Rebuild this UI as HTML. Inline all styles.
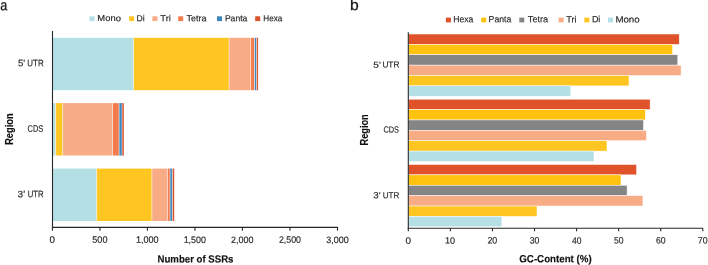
<!DOCTYPE html>
<html><head><meta charset="utf-8"><title>SSR charts</title>
<style>
html,body{margin:0;padding:0;background:#fff;}
body{width:708px;height:265px;overflow:hidden;}
svg{display:block;font-family:"Liberation Sans",sans-serif;will-change:transform;}
</style></head>
<body>
<svg width="708" height="265" viewBox="0 0 708 265">
<rect width="708" height="265" fill="#fff"/>
<rect x="89.50" y="16.30" width="5.00" height="4.80" fill="#B4DFE5"/>
<rect x="129.10" y="16.30" width="5.00" height="4.80" fill="#FFC520"/>
<rect x="152.40" y="16.30" width="5.00" height="4.80" fill="#F8AC85"/>
<rect x="178.20" y="16.30" width="5.00" height="4.80" fill="#F47C4C"/>
<rect x="217.00" y="16.30" width="5.00" height="4.80" fill="#3C86BD"/>
<rect x="255.20" y="16.30" width="5.00" height="4.80" fill="#DA512C"/>
<rect x="52.50" y="37.80" width="81.10" height="52.40" fill="#B4DFE5"/>
<rect x="133.60" y="37.80" width="95.50" height="52.40" fill="#FFC520"/>
<rect x="229.10" y="37.80" width="21.50" height="52.40" fill="#F8AC85"/>
<rect x="250.60" y="37.80" width="3.90" height="52.40" fill="#F47C4C"/>
<rect x="254.50" y="37.80" width="2.10" height="52.40" fill="#3C86BD"/>
<rect x="256.60" y="37.80" width="1.50" height="52.40" fill="#DA512C"/>
<line x1="133.60" y1="37.80" x2="133.60" y2="90.20" stroke="#fff" stroke-width="0.55"/>
<line x1="229.10" y1="37.80" x2="229.10" y2="90.20" stroke="#fff" stroke-width="0.55"/>
<line x1="250.60" y1="37.80" x2="250.60" y2="90.20" stroke="#fff" stroke-width="0.55"/>
<line x1="254.50" y1="37.80" x2="254.50" y2="90.20" stroke="#fff" stroke-width="0.55"/>
<line x1="256.60" y1="37.80" x2="256.60" y2="90.20" stroke="#fff" stroke-width="0.55"/>
<rect x="52.50" y="103.10" width="3.20" height="52.40" fill="#B4DFE5"/>
<rect x="55.70" y="103.10" width="7.00" height="52.40" fill="#FFC520"/>
<rect x="62.70" y="103.10" width="49.80" height="52.40" fill="#F8AC85"/>
<rect x="112.50" y="103.10" width="6.60" height="52.40" fill="#F47C4C"/>
<rect x="119.10" y="103.10" width="2.90" height="52.40" fill="#3C86BD"/>
<rect x="122.00" y="103.10" width="1.80" height="52.40" fill="#DA512C"/>
<line x1="55.70" y1="103.10" x2="55.70" y2="155.50" stroke="#fff" stroke-width="0.55"/>
<line x1="62.70" y1="103.10" x2="62.70" y2="155.50" stroke="#fff" stroke-width="0.55"/>
<line x1="112.50" y1="103.10" x2="112.50" y2="155.50" stroke="#fff" stroke-width="0.55"/>
<line x1="119.10" y1="103.10" x2="119.10" y2="155.50" stroke="#fff" stroke-width="0.55"/>
<line x1="122.00" y1="103.10" x2="122.00" y2="155.50" stroke="#fff" stroke-width="0.55"/>
<rect x="52.50" y="168.60" width="44.20" height="52.40" fill="#B4DFE5"/>
<rect x="96.70" y="168.60" width="55.20" height="52.40" fill="#FFC520"/>
<rect x="151.90" y="168.60" width="15.50" height="52.40" fill="#F8AC85"/>
<rect x="167.40" y="168.60" width="2.60" height="52.40" fill="#F47C4C"/>
<rect x="170.00" y="168.60" width="2.40" height="52.40" fill="#3C86BD"/>
<rect x="172.40" y="168.60" width="1.80" height="52.40" fill="#DA512C"/>
<line x1="96.70" y1="168.60" x2="96.70" y2="221.00" stroke="#fff" stroke-width="0.55"/>
<line x1="151.90" y1="168.60" x2="151.90" y2="221.00" stroke="#fff" stroke-width="0.55"/>
<line x1="167.40" y1="168.60" x2="167.40" y2="221.00" stroke="#fff" stroke-width="0.55"/>
<line x1="170.00" y1="168.60" x2="170.00" y2="221.00" stroke="#fff" stroke-width="0.55"/>
<line x1="172.40" y1="168.60" x2="172.40" y2="221.00" stroke="#fff" stroke-width="0.55"/>
<line x1="52.50" y1="31.00" x2="52.50" y2="227.90" stroke="#262626" stroke-width="1.1"/>
<line x1="52.00" y1="227.40" x2="338.10" y2="227.40" stroke="#262626" stroke-width="1.1"/>
<line x1="52.40" y1="227.40" x2="52.40" y2="230.70" stroke="#262626" stroke-width="1.1"/>
<line x1="99.92" y1="227.40" x2="99.92" y2="230.70" stroke="#262626" stroke-width="1.1"/>
<line x1="147.43" y1="227.40" x2="147.43" y2="230.70" stroke="#262626" stroke-width="1.1"/>
<line x1="194.95" y1="227.40" x2="194.95" y2="230.70" stroke="#262626" stroke-width="1.1"/>
<line x1="242.47" y1="227.40" x2="242.47" y2="230.70" stroke="#262626" stroke-width="1.1"/>
<line x1="289.98" y1="227.40" x2="289.98" y2="230.70" stroke="#262626" stroke-width="1.1"/>
<line x1="337.50" y1="227.40" x2="337.50" y2="230.70" stroke="#262626" stroke-width="1.1"/>
<rect x="445.90" y="17.60" width="5.00" height="4.80" fill="#E0522A"/>
<rect x="481.20" y="17.60" width="5.00" height="4.80" fill="#FFC20E"/>
<rect x="519.30" y="17.60" width="5.00" height="4.80" fill="#858585"/>
<rect x="558.60" y="17.60" width="5.00" height="4.80" fill="#F8AC85"/>
<rect x="584.30" y="17.60" width="5.00" height="4.80" fill="#FFC520"/>
<rect x="608.00" y="17.60" width="5.00" height="4.80" fill="#B4DFE5"/>
<rect x="408.60" y="34.00" width="270.60" height="10.38" fill="#E0522A" stroke="#fff" stroke-width="0.5"/>
<rect x="408.60" y="44.38" width="264.00" height="10.38" fill="#FFC20E" stroke="#fff" stroke-width="0.5"/>
<rect x="408.60" y="54.76" width="269.20" height="10.38" fill="#858585" stroke="#fff" stroke-width="0.5"/>
<rect x="408.60" y="65.14" width="272.50" height="10.38" fill="#F8AC85" stroke="#fff" stroke-width="0.5"/>
<rect x="408.60" y="75.52" width="220.40" height="10.38" fill="#FFC520" stroke="#fff" stroke-width="0.5"/>
<rect x="408.60" y="85.90" width="162.20" height="10.38" fill="#B4DFE5" stroke="#fff" stroke-width="0.5"/>
<rect x="408.60" y="99.20" width="241.50" height="10.38" fill="#E0522A" stroke="#fff" stroke-width="0.5"/>
<rect x="408.60" y="109.58" width="236.70" height="10.38" fill="#FFC20E" stroke="#fff" stroke-width="0.5"/>
<rect x="408.60" y="119.96" width="234.90" height="10.38" fill="#858585" stroke="#fff" stroke-width="0.5"/>
<rect x="408.60" y="130.34" width="237.80" height="10.38" fill="#F8AC85" stroke="#fff" stroke-width="0.5"/>
<rect x="408.60" y="140.72" width="198.40" height="10.38" fill="#FFC520" stroke="#fff" stroke-width="0.5"/>
<rect x="408.60" y="151.10" width="185.40" height="10.38" fill="#B4DFE5" stroke="#fff" stroke-width="0.5"/>
<rect x="408.60" y="164.50" width="228.00" height="10.38" fill="#E0522A" stroke="#fff" stroke-width="0.5"/>
<rect x="408.60" y="174.88" width="212.40" height="10.38" fill="#FFC20E" stroke="#fff" stroke-width="0.5"/>
<rect x="408.60" y="185.26" width="218.50" height="10.38" fill="#858585" stroke="#fff" stroke-width="0.5"/>
<rect x="408.60" y="195.64" width="234.30" height="10.38" fill="#F8AC85" stroke="#fff" stroke-width="0.5"/>
<rect x="408.60" y="206.02" width="128.40" height="10.38" fill="#FFC520" stroke="#fff" stroke-width="0.5"/>
<rect x="408.60" y="216.40" width="93.30" height="10.38" fill="#B4DFE5" stroke="#fff" stroke-width="0.5"/>
<line x1="408.30" y1="32.20" x2="408.30" y2="228.70" stroke="#262626" stroke-width="1.1"/>
<line x1="407.80" y1="228.20" x2="703.00" y2="228.20" stroke="#262626" stroke-width="1.1"/>
<line x1="408.30" y1="228.20" x2="408.30" y2="231.30" stroke="#262626" stroke-width="1.1"/>
<line x1="450.37" y1="228.20" x2="450.37" y2="231.30" stroke="#262626" stroke-width="1.1"/>
<line x1="492.44" y1="228.20" x2="492.44" y2="231.30" stroke="#262626" stroke-width="1.1"/>
<line x1="534.51" y1="228.20" x2="534.51" y2="231.30" stroke="#262626" stroke-width="1.1"/>
<line x1="576.59" y1="228.20" x2="576.59" y2="231.30" stroke="#262626" stroke-width="1.1"/>
<line x1="618.66" y1="228.20" x2="618.66" y2="231.30" stroke="#262626" stroke-width="1.1"/>
<line x1="660.73" y1="228.20" x2="660.73" y2="231.30" stroke="#262626" stroke-width="1.1"/>
<line x1="702.80" y1="228.20" x2="702.80" y2="231.30" stroke="#262626" stroke-width="1.1"/>
<text x="0.29" y="10.24" font-size="15.09" stroke="#111111" stroke-width="0.25" fill="#111111" textLength="7.02" lengthAdjust="spacingAndGlyphs" transform="rotate(0.05,0.29,10.24)">a</text>
<text x="349.96" y="10.08" font-size="15.09" stroke="#111111" stroke-width="0.25" fill="#111111" textLength="8.73" lengthAdjust="spacingAndGlyphs" transform="rotate(0.05,349.96,10.08)">b</text>
<text x="97.37" y="21.12" font-size="8.80" stroke="#262626" stroke-width="0.15" fill="#262626" textLength="23.58" lengthAdjust="spacingAndGlyphs" transform="rotate(0.05,97.37,21.12)">Mono</text>
<text x="136.41" y="21.30" font-size="8.80" stroke="#262626" stroke-width="0.15" fill="#262626" textLength="8.15" lengthAdjust="spacingAndGlyphs" transform="rotate(0.05,136.41,21.30)">Di</text>
<text x="160.25" y="21.32" font-size="8.80" stroke="#262626" stroke-width="0.15" fill="#262626" textLength="10.61" lengthAdjust="spacingAndGlyphs" transform="rotate(0.05,160.25,21.32)">Tri</text>
<text x="186.55" y="21.21" font-size="8.80" stroke="#262626" stroke-width="0.15" fill="#262626" textLength="20.09" lengthAdjust="spacingAndGlyphs" transform="rotate(0.05,186.55,21.21)">Tetra</text>
<text x="224.90" y="21.21" font-size="8.80" stroke="#262626" stroke-width="0.15" fill="#262626" textLength="22.43" lengthAdjust="spacingAndGlyphs" transform="rotate(0.05,224.90,21.21)">Panta</text>
<text x="263.26" y="21.19" font-size="8.80" stroke="#262626" stroke-width="0.15" fill="#262626" textLength="19.03" lengthAdjust="spacingAndGlyphs" transform="rotate(0.05,263.26,21.19)">Hexa</text>
<text x="453.21" y="22.25" font-size="9.10" stroke="#262626" stroke-width="0.15" fill="#262626" textLength="20.16" lengthAdjust="spacingAndGlyphs" transform="rotate(0.05,453.21,22.25)">Hexa</text>
<text x="488.62" y="22.28" font-size="9.10" stroke="#262626" stroke-width="0.15" fill="#262626" textLength="22.75" lengthAdjust="spacingAndGlyphs" transform="rotate(0.05,488.62,22.28)">Panta</text>
<text x="527.86" y="22.30" font-size="9.10" stroke="#262626" stroke-width="0.15" fill="#262626" textLength="20.31" lengthAdjust="spacingAndGlyphs" transform="rotate(0.05,527.86,22.30)">Tetra</text>
<text x="566.25" y="22.47" font-size="9.10" stroke="#262626" stroke-width="0.15" fill="#262626" textLength="10.43" lengthAdjust="spacingAndGlyphs" transform="rotate(0.05,566.25,22.47)">Tri</text>
<text x="591.88" y="22.35" font-size="9.10" stroke="#262626" stroke-width="0.15" fill="#262626" textLength="8.46" lengthAdjust="spacingAndGlyphs" transform="rotate(0.05,591.88,22.35)">Di</text>
<text x="615.41" y="22.46" font-size="9.10" stroke="#262626" stroke-width="0.15" fill="#262626" textLength="24.25" lengthAdjust="spacingAndGlyphs" transform="rotate(0.05,615.41,22.46)">Mono</text>
<text x="49.64" y="242.89" font-size="9.30" stroke="#262626" stroke-width="0.15" fill="#262626" textLength="5.48" lengthAdjust="spacingAndGlyphs" transform="rotate(0.05,49.64,242.89)">0</text>
<text x="92.25" y="242.80" font-size="9.30" stroke="#262626" stroke-width="0.15" fill="#262626" textLength="15.22" lengthAdjust="spacingAndGlyphs" transform="rotate(0.05,92.25,242.80)">500</text>
<text x="135.94" y="242.87" font-size="9.30" stroke="#262626" stroke-width="0.15" fill="#262626" textLength="22.69" lengthAdjust="spacingAndGlyphs" transform="rotate(0.05,135.94,242.87)">1,000</text>
<text x="183.64" y="242.88" font-size="9.30" stroke="#262626" stroke-width="0.15" fill="#262626" textLength="22.28" lengthAdjust="spacingAndGlyphs" transform="rotate(0.05,183.64,242.88)">1,500</text>
<text x="231.09" y="242.88" font-size="9.30" stroke="#262626" stroke-width="0.15" fill="#262626" textLength="22.41" lengthAdjust="spacingAndGlyphs" transform="rotate(0.05,231.09,242.88)">2,000</text>
<text x="278.88" y="242.87" font-size="9.30" stroke="#262626" stroke-width="0.15" fill="#262626" textLength="22.06" lengthAdjust="spacingAndGlyphs" transform="rotate(0.05,278.88,242.87)">2,500</text>
<text x="326.33" y="242.90" font-size="9.30" stroke="#262626" stroke-width="0.15" fill="#262626" textLength="22.36" lengthAdjust="spacingAndGlyphs" transform="rotate(0.05,326.33,242.90)">3,000</text>
<text x="405.57" y="243.63" font-size="9.25" stroke="#262626" stroke-width="0.15" fill="#262626" textLength="5.51" lengthAdjust="spacingAndGlyphs" transform="rotate(0.05,405.57,243.63)">0</text>
<text x="445.03" y="243.63" font-size="9.25" stroke="#262626" stroke-width="0.15" fill="#262626" textLength="10.10" lengthAdjust="spacingAndGlyphs" transform="rotate(0.05,445.03,243.63)">10</text>
<text x="487.44" y="243.61" font-size="9.25" stroke="#262626" stroke-width="0.15" fill="#262626" textLength="9.85" lengthAdjust="spacingAndGlyphs" transform="rotate(0.05,487.44,243.61)">20</text>
<text x="529.65" y="243.62" font-size="9.25" stroke="#262626" stroke-width="0.15" fill="#262626" textLength="9.78" lengthAdjust="spacingAndGlyphs" transform="rotate(0.05,529.65,243.62)">30</text>
<text x="571.91" y="243.64" font-size="9.25" stroke="#262626" stroke-width="0.15" fill="#262626" textLength="9.49" lengthAdjust="spacingAndGlyphs" transform="rotate(0.05,571.91,243.64)">40</text>
<text x="613.90" y="243.62" font-size="9.25" stroke="#262626" stroke-width="0.15" fill="#262626" textLength="9.55" lengthAdjust="spacingAndGlyphs" transform="rotate(0.05,613.90,243.62)">50</text>
<text x="655.90" y="243.58" font-size="9.25" stroke="#262626" stroke-width="0.15" fill="#262626" textLength="9.62" lengthAdjust="spacingAndGlyphs" transform="rotate(0.05,655.90,243.58)">60</text>
<text x="697.77" y="243.60" font-size="9.25" stroke="#262626" stroke-width="0.15" fill="#262626" textLength="9.83" lengthAdjust="spacingAndGlyphs" transform="rotate(0.05,697.77,243.60)">70</text>
<text x="17.96" y="66.32" font-size="9.30" stroke="#262626" stroke-width="0.15" fill="#262626" textLength="7.17" lengthAdjust="spacingAndGlyphs" transform="rotate(0.05,17.96,66.32)">5'</text>
<text x="27.37" y="66.37" font-size="9.30" stroke="#262626" stroke-width="0.15" fill="#262626" textLength="16.25" lengthAdjust="spacingAndGlyphs" transform="rotate(0.05,27.37,66.37)">UTR</text>
<text x="27.55" y="131.65" font-size="9.30" stroke="#262626" stroke-width="0.15" fill="#262626" textLength="15.80" lengthAdjust="spacingAndGlyphs" transform="rotate(0.05,27.55,131.65)">CDS</text>
<text x="17.59" y="197.31" font-size="9.30" stroke="#262626" stroke-width="0.15" fill="#262626" textLength="7.57" lengthAdjust="spacingAndGlyphs" transform="rotate(0.05,17.59,197.31)">3'</text>
<text x="27.63" y="197.34" font-size="9.30" stroke="#262626" stroke-width="0.15" fill="#262626" textLength="15.82" lengthAdjust="spacingAndGlyphs" transform="rotate(0.05,27.63,197.34)">UTR</text>
<text x="373.35" y="67.65" font-size="8.80" stroke="#262626" stroke-width="0.15" fill="#262626" textLength="7.55" lengthAdjust="spacingAndGlyphs" transform="rotate(0.05,373.35,67.65)">5'</text>
<text x="382.39" y="67.58" font-size="8.80" stroke="#262626" stroke-width="0.15" fill="#262626" textLength="16.99" lengthAdjust="spacingAndGlyphs" transform="rotate(0.05,382.39,67.58)">UTR</text>
<text x="383.38" y="132.44" font-size="8.80" stroke="#262626" stroke-width="0.15" fill="#262626" textLength="15.52" lengthAdjust="spacingAndGlyphs" transform="rotate(0.05,383.38,132.44)">CDS</text>
<text x="373.39" y="198.29" font-size="8.80" stroke="#262626" stroke-width="0.15" fill="#262626" textLength="7.31" lengthAdjust="spacingAndGlyphs" transform="rotate(0.05,373.39,198.29)">3'</text>
<text x="382.66" y="198.28" font-size="8.80" stroke="#262626" stroke-width="0.15" fill="#262626" textLength="16.65" lengthAdjust="spacingAndGlyphs" transform="rotate(0.05,382.66,198.28)">UTR</text>
<text x="157.55" y="262.49" font-size="10.30" font-weight="bold" stroke="#111111" stroke-width="0.15" fill="#111111" textLength="75.91" lengthAdjust="spacingAndGlyphs" transform="rotate(0.05,157.55,262.49)">Number of SSRs</text>
<text x="519.31" y="262.18" font-size="10.30" font-weight="bold" stroke="#111111" stroke-width="0.15" fill="#111111" textLength="72.36" lengthAdjust="spacingAndGlyphs" transform="rotate(0.05,519.31,262.18)">GC-Content (%)</text>
<text x="0" y="0" font-size="10.60" font-weight="bold" stroke="#111111" stroke-width="0.15" fill="#111111" textLength="31.46" lengthAdjust="spacingAndGlyphs" transform="translate(12.50,144.86) rotate(-90)">Region</text>
<text x="0" y="0" font-size="10.60" font-weight="bold" stroke="#111111" stroke-width="0.15" fill="#111111" textLength="31.24" lengthAdjust="spacingAndGlyphs" transform="translate(368.22,145.49) rotate(-90)">Region</text>
</svg>
</body></html>
